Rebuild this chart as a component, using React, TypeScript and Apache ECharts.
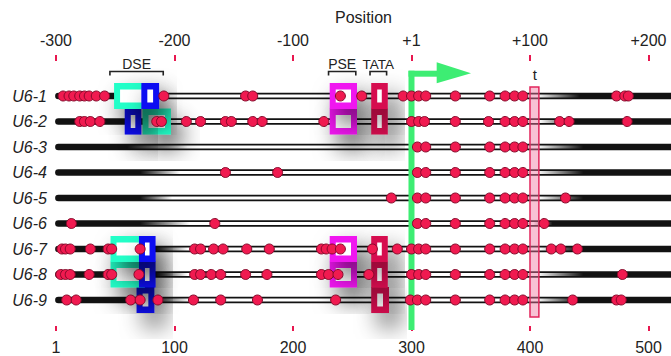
import React, { useEffect, useRef } from 'react';
import * as echarts from 'echarts';

const rowNames = ['U6-1', 'U6-2', 'U6-3', 'U6-4', 'U6-5', 'U6-6', 'U6-7', 'U6-8', 'U6-9'];
const bottomTickLabels = ['1', '100', '200', '300', '400', '500'];
const topTickLabels = ['-300', '-200', '-100', '+1', '+100', '+200'];

// red dots per gene (position along the 1..519 scale)
const dotsU61 = [6, 11, 15, 20, 24, 28, 34, 41, 91, 160, 166, 240, 258, 293, 300, 306, 312, 337, 366, 379, 387, 394, 473, 480, 483];
const dotsU62 = [20, 24, 29, 37, 85, 89, 110, 122, 143, 148, 166, 174, 226, 300, 306, 311, 337, 365, 379, 387, 394, 425, 433, 482];
const dotsU63 = [305, 312, 337, 366, 379, 387, 394];
const dotsU64 = [143, 187, 305, 312, 337, 366, 379, 387, 394];
const dotsU65 = [283, 305, 312, 337, 366, 379, 387, 394, 430];
const dotsU66 = [13, 134, 305, 312, 337, 366, 379, 387, 394, 412];
const dotsU67 = [5, 8, 12, 29, 44, 47, 71, 117, 122, 133, 141, 161, 180, 224, 228, 233, 240, 267, 288, 300, 306, 312, 337, 366, 379, 387, 394, 418, 426, 440];
const dotsU68 = [4, 8, 12, 28, 44, 47, 70, 117, 122, 131, 139, 160, 178, 224, 230, 238, 264, 300, 306, 312, 337, 366, 379, 387, 394, 478];
const dotsU69 = [9, 17, 63, 71, 86, 116, 139, 170, 236, 299, 305, 312, 337, 366, 379, 387, 394, 436, 473, 477];
const rowDots = [dotsU61, dotsU62, dotsU63, dotsU64, dotsU65, dotsU66, dotsU67, dotsU68, dotsU69];

// open (white-core) stretch of each line: fade in start/end, fade out start/end
const fadeInStart = [79, 71, 60, 71, 71, 71, 84, 84, 79];
const fadeInEnd = [88, 92, 111, 105, 98, 113, 111, 111, 113];
const fadeOutStart = [406, 408, 406, 406, 408, 403, 408, 406, 406];
const fadeOutEnd = [442, 438, 445, 445, 445, 419, 440, 445, 440];

// element boxes: [row index, start, end]
const dseCyanBoxes = [[0, 49, 78], [1, 73, 97], [6, 46, 75], [7, 46, 75]];
const dseBlueBoxes = [[0, 72, 87], [1, 58, 72], [6, 70, 84], [7, 70, 84], [8, 68, 83]];
const pseBoxes = [[0, 231, 254], [1, 231, 254], [6, 231, 254], [7, 231, 254]];
const tataBoxes = [[0, 266, 280], [1, 266, 280], [6, 266, 280], [7, 266, 280], [8, 266, 281]];

const tBox = [400, 407.5];
const tssPosition = 300;
const dseBracket = [45.5, 90.5];
const pseBracket = [230, 253];
const tataBracket = [265, 279];

const FONT = '"Liberation Sans", Arial, Helvetica, sans-serif';
const RED = '#e8174f';

const kindStyle: Record<string, string> = {
  cyan: '#22ffc8',
  blue: '#0c0cf2',
  pse: '#f014f0',
  tata: '#d61150',
};

type Box = { row: number; start: number; end: number; kind: string };
const allBoxes: Box[] = [];
for (let r = 8; r >= 0; r--) {
  const add = (list: number[][], kind: string) =>
    list.filter((b) => b[0] === r).forEach((b) => allBoxes.push({ row: r, start: b[1], end: b[2], kind }));
  add(dseCyanBoxes, 'cyan');
  add(dseBlueBoxes, 'blue');
  add(pseBoxes, 'pse');
  add(tataBoxes, 'tata');
}

const dotData: number[][] = [];
rowDots.forEach((arr, i) => arr.forEach((v) => dotData.push([v, i])));

function buildOption(): any {
  const tubeSeries = {
    type: 'custom',
    z: 1,
    silent: true,
    data: rowNames.map((_, i) => [fadeInStart[i], i]),
    renderItem: (params: any, api: any) => {
      const i = params.dataIndex;
      const [xs, y] = api.coord([2, i]);
      const xe = api.coord([519, i])[0];
      const a0 = api.coord([fadeInStart[i], i])[0];
      const a1 = api.coord([fadeInEnd[i], i])[0];
      const b0 = api.coord([fadeOutStart[i], i])[0];
      const b1 = api.coord([fadeOutEnd[i], i])[0];
      const w = b1 - a0;
      return {
        type: 'group',
        children: [
          { type: 'line', shape: { x1: xs, y1: y, x2: xe + 10, y2: y }, style: { stroke: '#121212', lineWidth: 6.5, lineCap: 'round' } },
          {
            type: 'rect',
            shape: { x: a0, y: y - 1.5, width: w, height: 3 },
            style: {
              fill: new echarts.graphic.LinearGradient(0, 0, 1, 0, [
                { offset: 0, color: 'rgba(255,255,255,0)' },
                { offset: (a1 - a0) / w, color: '#ffffff' },
                { offset: (b0 - a0) / w, color: '#ffffff' },
                { offset: 1, color: 'rgba(255,255,255,0)' },
              ]),
            },
          },
        ],
      };
    },
  };

  const tBoxSeries = {
    type: 'custom',
    z: 2,
    silent: true,
    data: [[tBox[0], 0]],
    renderItem: (params: any, api: any) => {
      const p0 = api.coord([tBox[0], 0]);
      const p1 = api.coord([tBox[1], 8]);
      return {
        type: 'rect',
        shape: { x: p0[0], y: p0[1] - 9, width: p1[0] - p0[0], height: p1[1] + 17 - (p0[1] - 9) },
        style: { fill: 'rgba(240,120,160,0.45)', stroke: '#e2265c', lineWidth: 1.5 },
      };
    },
  };

  const boxSeries = {
    type: 'custom',
    z: 3,
    silent: true,
    data: allBoxes.map((b) => [b.start, b.row]),
    renderItem: (params: any, api: any) => {
      const b = allBoxes[params.dataIndex];
      const p0 = api.coord([b.start, b.row]);
      const p1 = api.coord([b.end, b.row]);
      const band = api.coord([0, 1])[1] - api.coord([0, 0])[1];
      const h = band + 0.5;
      const x = p0[0];
      const w = p1[0] - p0[0];
      const top = p0[1] - h / 2;
      return {
        type: 'group',
        children: [
          {
            type: 'rect',
            shape: { x, y: top, width: w, height: h },
            style: {
              fill: kindStyle[b.kind],
              shadowBlur: 24,
              shadowOffsetX: 9,
              shadowOffsetY: 13,
              shadowColor: 'rgba(0,0,0,0.72)',
            },
          },
          { type: 'rect', shape: { x: x + 6, y: top + 6.5, width: w - 12, height: h - 13 }, style: { fill: '#ffffff' } },
        ],
      };
    },
  };

  const annotationSeries = {
    type: 'custom',
    z: 4,
    silent: true,
    data: [[tssPosition, 0]],
    renderItem: (params: any, api: any) => {
      const [tx, y0] = api.coord([tssPosition, 0]);
      const y8 = api.coord([tssPosition, 8])[1];
      const green = '#3ded73';
      const children: any[] = [
        { type: 'rect', shape: { x: tx - 3, y: y0 - 25.3, width: 6, height: y8 + 30 - (y0 - 25.3) }, style: { fill: green } },
        { type: 'rect', shape: { x: tx - 3, y: y0 - 25.3, width: 29, height: 6 }, style: { fill: green } },
        {
          type: 'polygon',
          shape: { points: [[tx + 25.2, y0 - 33.7], [tx + 59.5, y0 - 22.7], [tx + 25.2, y0 - 12.7]] },
          style: { fill: green },
        },
      ];
      const bracket = (range: number[], label: string, size: number) => {
        const xa = api.coord([range[0], 0])[0];
        const xb = api.coord([range[1], 0])[0];
        const by = y0 - 24.5;
        children.push({
          type: 'polyline',
          shape: { points: [[xa, by + 4], [xa, by], [xb, by], [xb, by + 4]] },
          style: { stroke: '#222', lineWidth: 1.6, fill: null },
        });
        children.push({
          type: 'text',
          x: (xa + xb) / 2,
          y: y0 - 32,
          style: { text: label, fill: '#222', fontSize: size, fontFamily: FONT, align: 'center', verticalAlign: 'middle', textAlign: 'center', textVerticalAlign: 'middle' },
        });
      };
      bracket(dseBracket, 'DSE', 14);
      bracket(pseBracket, 'PSE', 14);
      bracket(tataBracket, 'TATA', 13.5);
      const tcx = api.coord([(tBox[0] + tBox[1]) / 2, 0])[0];
      children.push({
        type: 'text',
        x: tcx + 0.5,
        y: y0 - 22,
        style: { text: 't', fill: '#222', fontSize: 15, fontFamily: FONT, align: 'center', verticalAlign: 'middle', textAlign: 'center', textVerticalAlign: 'middle' },
      });
      return { type: 'group', children };
    },
  };

  const dotSeries = {
    type: 'scatter',
    z: 5,
    silent: true,
    symbol: 'circle',
    symbolSize: 10,
    data: dotData,
    itemStyle: { color: '#f01a50', borderColor: '#86092a', borderWidth: 1, opacity: 1 },
  };

  const axisCommon = {
    type: 'value',
    min: 0,
    max: 519,
    interval: 100,
    axisLine: { show: false },
    splitLine: { show: false },
    axisTick: { show: true, length: 5, lineStyle: { color: RED, width: 2 } },
  };

  return {
    animation: false,
    backgroundColor: '#ffffff',
    grid: { left: 56, right: 0, top: 83.25, bottom: 43.25, containLabel: false },
    xAxis: [
      {
        ...axisCommon,
        position: 'bottom',
        offset: 13.25,
        axisLabel: {
          margin: 13,
          fontSize: 16,
          color: '#222',
          fontFamily: FONT,
          formatter: (v: number) => bottomTickLabels[Math.round(v / 100)] ?? '',
        },
      },
      {
        ...axisCommon,
        position: 'top',
        offset: 22.25,
        axisTick: { show: true, length: 6, lineStyle: { color: RED, width: 2 } },
        axisLabel: {
          margin: 13,
          fontSize: 16,
          color: '#222',
          fontFamily: FONT,
          formatter: (v: number) => topTickLabels[Math.round(v / 100)] ?? '',
        },
      },
    ],
    yAxis: {
      type: 'category',
      data: rowNames,
      inverse: true,
      axisLine: { show: false },
      axisTick: { show: false },
      splitLine: { show: false },
      axisLabel: { margin: 9, fontSize: 16, fontStyle: 'italic', color: '#222', fontFamily: FONT },
    },
    graphic: [
      {
        type: 'text',
        x: 363.5,
        y: 17,
        style: { text: 'Position', fill: '#222', fontSize: 16, fontFamily: FONT, align: 'center', verticalAlign: 'middle', textAlign: 'center', textVerticalAlign: 'middle' },
      },
    ],
    series: [tubeSeries, tBoxSeries, boxSeries, annotationSeries, dotSeries],
  };
}

export default function App() {
  const ref = useRef<HTMLDivElement>(null);
  useEffect(() => {
    document.body.style.margin = '0';
    const chart = echarts.init(ref.current as HTMLDivElement, null, { renderer: 'svg' });
    chart.setOption(buildOption());
    return () => chart.dispose();
  }, []);
  return <div ref={ref} style={{ position: 'fixed', left: 0, top: 0, width: 671, height: 356, background: '#fff' }} />;
}
